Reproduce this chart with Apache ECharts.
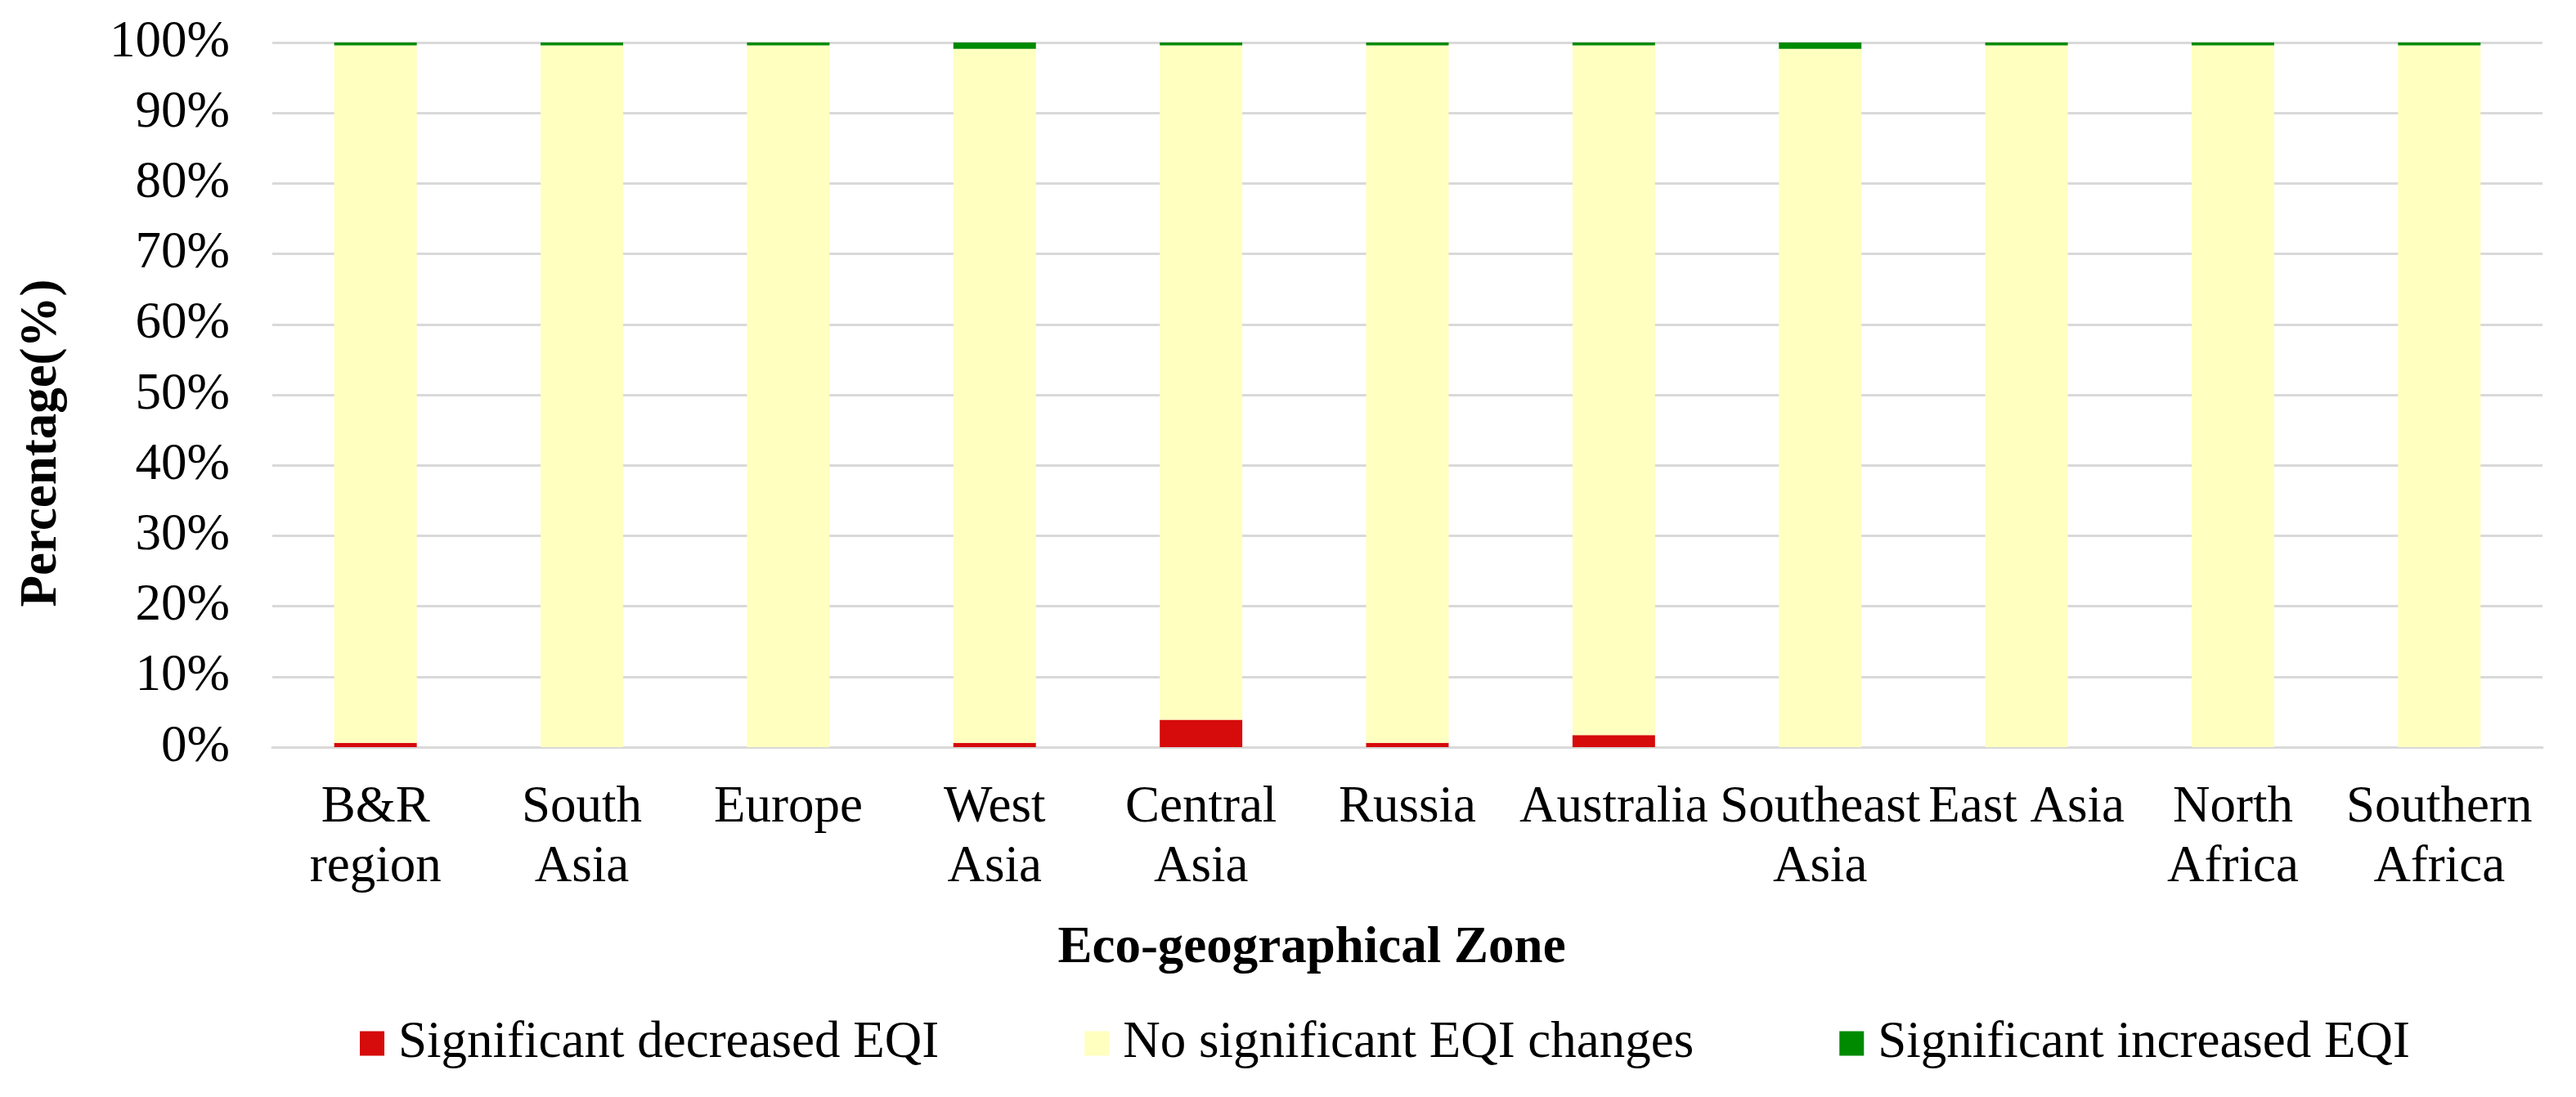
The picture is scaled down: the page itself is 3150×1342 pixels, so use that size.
<!DOCTYPE html>
<html>
<head>
<meta charset="utf-8">
<script src="https://cdn.jsdelivr.net/npm/echarts@6/dist/echarts.min.js"></script>
<style>
html,body{margin:0;padding:0;background:#fff;}
#chart{width:3150px;height:1342px;}
</style>
</head>
<body>
<div id="chart"></div>
<script>
var categories = ['B&R\nregion', 'South\nAsia', 'Europe', 'West\nAsia', 'Central\nAsia', 'Russia', 'Australia', 'Southeast\nAsia', 'East Asia', 'North\nAfrica', 'Southern\nAfrica'];
var decreased = [0.6, 0, 0, 0.6, 3.9, 0.6, 1.7, 0, 0, 0, 0];
var noChange = [99.0, 99.6, 99.6, 98.5, 95.7, 99.0, 97.9, 99.1, 99.6, 99.6, 99.6];
var increased = [0.4, 0.4, 0.4, 0.9, 0.4, 0.4, 0.4, 0.9, 0.4, 0.4, 0.4];
var seriesNames = ['Significant decreased EQI', 'No significant EQI changes', 'Significant increased EQI'];
var yTicks = [0, 10, 20, 30, 40, 50, 60, 70, 80, 90, 100];

var FONT = "'Liberation Serif', 'Times New Roman', serif";
var FS = 63;

var chart = echarts.init(document.getElementById('chart'), null, {renderer: 'canvas'});
chart.setOption({
  animation: false,
  backgroundColor: '#ffffff',
  textStyle: {fontFamily: FONT, color: '#000'},
  grid: {left: 333, right: 41, top: 52, bottom: 428, containLabel: false},
  legend: {
    left: 435, top: 1240,
    itemWidth: 30, itemHeight: 30, itemGap: 178,
    icon: 'rect',
    data: seriesNames,
    textStyle: {fontFamily: FONT, fontSize: FS, color: '#000', padding: [0, 0, 0, 12]}
  },
  xAxis: {
    type: 'category',
    data: categories,
    axisLine: {lineStyle: {color: '#d9d9d9', width: 3}},
    axisTick: {show: false},
    axisLabel: {interval: 0, margin: 38, fontFamily: FONT, fontSize: FS, lineHeight: 73, color: '#000'}
  },
  yAxis: {
    type: 'value',
    min: yTicks[0], max: yTicks[yTicks.length - 1], interval: 10,
    axisLine: {show: false},
    axisTick: {show: false},
    splitLine: {lineStyle: {color: '#d9d9d9', width: 3}},
    axisLabel: {margin: 52, fontFamily: FONT, fontSize: FS, color: '#000', formatter: '{value}%'}
  },
  graphic: [
    {type: 'text', x: 52, y: 542, rotation: Math.PI / 2,
     style: {text: 'Percentage(%)', fontFamily: FONT, fontSize: FS, fontWeight: 'bold', fill: '#000', align: 'center', verticalAlign: 'middle'}},
    {type: 'text', x: 1604, y: 1161,
     style: {text: 'Eco-geographical Zone', fontFamily: FONT, fontSize: FS, fontWeight: 'bold', fill: '#000', align: 'center', verticalAlign: 'middle'}}
  ],
  series: [
    {name: seriesNames[0], type: 'bar', stack: 'total', barWidth: '40%', data: decreased, itemStyle: {color: '#d60b0b'}},
    {name: seriesNames[1], type: 'bar', stack: 'total', barWidth: '40%', data: noChange, itemStyle: {color: '#ffffc0'}},
    {name: seriesNames[2], type: 'bar', stack: 'total', barWidth: '40%', data: increased, itemStyle: {color: '#008a00'}}
  ]
});
</script>
</body>
</html>
